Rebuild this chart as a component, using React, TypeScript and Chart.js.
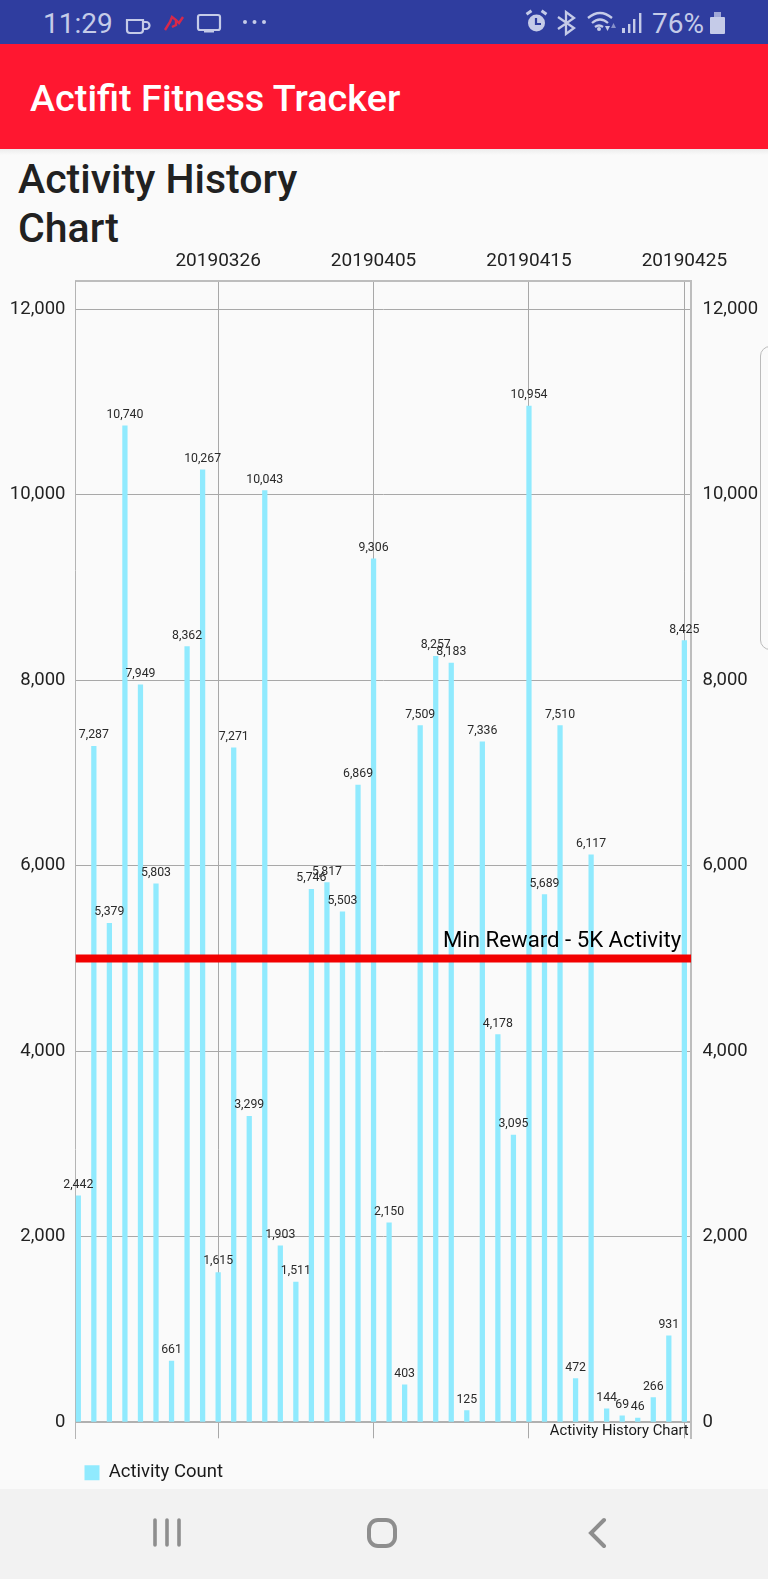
import React, { useEffect, useRef } from "react";
import { Chart, registerables } from "chart.js";

Chart.register(...registerables);

const dates = [
  "20190317","20190318","20190319","20190320","20190321","20190322","20190323","20190324","20190325","20190326",
  "20190327","20190328","20190329","20190330","20190331","20190401","20190402","20190403","20190404","20190405",
  "20190406","20190407","20190408","20190409","20190410","20190411","20190412","20190413","20190414","20190415",
  "20190416","20190417","20190418","20190419","20190420","20190421","20190422","20190423","20190424","20190425",
];
const activity = [
  2442,7287,5379,10740,7949,5803,661,8362,10267,1615,
  7271,3299,10043,1903,1511,5746,5817,5503,6869,9306,
  2150,403,7509,8257,8183,125,7336,4178,3095,10954,
  5689,7510,472,6117,144,69,46,266,931,8425,
];
const xTickIndexes = [9, 19, 29, 39];
const yTicks = [0, 2000, 4000, 6000, 8000, 10000, 12000];
const rewardLimit = 5000;
const rewardLabel = "Min Reward - 5K Activity";
const seriesName = "Activity Count";
const chartDescription = "Activity History Chart";

const X_MIN = -0.18;
const X_MAX = 39.44;
const Y_MIN = -172.5;
const Y_MAX = 12302;
const FONT = "Roboto";
const BAR = "#90EAFE";

const overlay = {
  id: "overlay",
  afterDatasetsDraw(chart: any) {
    const { ctx, chartArea, scales } = chart;
    ctx.save();
    const meta = chart.getDatasetMeta(0);
    ctx.font = `12.3px ${FONT}`;
    ctx.fillStyle = "#2a2a2a";
    ctx.textAlign = "center";
    ctx.textBaseline = "alphabetic";
    meta.data.forEach((el: any, i: number) => {
      ctx.fillText(activity[i].toLocaleString("en-US"), el.x, el.y - 8);
    });
    ctx.font = `22.2px ${FONT}`;
    ctx.fillStyle = "#000";
    ctx.textAlign = "right";
    ctx.fillText(rewardLabel, chartArea.right - 10, scales.y.getPixelForValue(rewardLimit) - 11);
    ctx.font = `14.8px ${FONT}`;
    ctx.fillStyle = "#1a1a1a";
    ctx.fillText(chartDescription, chartArea.right - 2.5, chartArea.bottom - 3.5);
    ctx.restore();
  },
};

function NavAndStatus() {
  const ic = "#C5CBE8";
  const bar = "#2F3D9F";
  return (
    <>
      <div style={{ position: "absolute", left: 0, top: 0, width: 768, height: 44, background: bar }}>
        <span style={{ position: "absolute", left: 43, top: 6, fontFamily: FONT, fontSize: 28, color: ic, lineHeight: "36px" }}>11:29</span>
        <svg width="768" height="44" style={{ position: "absolute", left: 0, top: 0 }}>
          <g fill="none" stroke={ic} strokeWidth="2.2">
            <path d="M127 20 h16 v10 a3 3 0 0 1 -3 3 h-10 a3 3 0 0 1 -3 -3 z" />
            <path d="M143 22 h3 a3 3 0 0 1 0 7 h-3" />
            <rect x="198" y="15" width="22" height="15" rx="2" />
          </g>
          <rect x="204" y="30" width="10" height="2.5" fill={ic} />
          <path d="M165 30 L170 22 L172 17 L176 20 L176 25 L172 27 M176 20 L179 23 L183 17" stroke="#D8284A" strokeWidth="2.4" fill="none" />
          <g fill={ic}>
            <circle cx="245" cy="22" r="2" /><circle cx="254.5" cy="22" r="2" /><circle cx="264" cy="22" r="2" />
            <circle cx="536.5" cy="23" r="8.5" />
            <rect x="526" y="11" width="6" height="3" transform="rotate(-35 529 12.5)" />
            <rect x="541" y="11" width="6" height="3" transform="rotate(35 544 12.5)" />
            <rect x="710" y="17" width="15" height="17" rx="1" />
            <rect x="714" y="12" width="7" height="5" opacity="0.75" />
            <rect x="622" y="28" width="3" height="5" /><rect x="628" y="24" width="2.4" height="9" />
            <rect x="633" y="19" width="2.4" height="14" /><rect x="639" y="13" width="2.4" height="20" />
            <circle cx="599" cy="29" r="2" />
            <path d="M605 26 h5 l-2.5 5 z" /><path d="M611 28 h5 l-2.5 -5 z" opacity="0.6" />
          </g>
          <path d="M536 18 V24 H541" stroke={bar} strokeWidth="2.2" fill="none" />
          <g fill="none" stroke={ic} strokeWidth="2.3">
            <path d="M558 17 L574 28 L566 34 V12 L574 18 L558 29" />
            <path d="M588 18 Q600 8 612 18 M592 23 Q600 16 608 23 M595 27 Q599 24 603 27" />
          </g>
        </svg>
        <span style={{ position: "absolute", left: 652, top: 6, fontFamily: FONT, fontSize: 28, color: ic, lineHeight: "36px" }}>76%</span>
      </div>
      <div style={{ position: "absolute", left: 0, top: 1489, width: 768, height: 90, background: "#F2F2F2" }}>
        <svg width="768" height="90">
          <g fill="none" stroke="#8E8E8E" strokeWidth="3.6" strokeLinecap="round">
            <path d="M155 31 V56 M167 31 V56 M179 31 V56" />
            <rect x="369" y="31" width="26" height="26" rx="9" strokeWidth="4" />
            <path d="M604 31 L591 44 L604 57" strokeWidth="4" />
          </g>
        </svg>
      </div>
    </>
  );
}

export default function App() {
  const ref = useRef<HTMLCanvasElement>(null);
  useEffect(() => {
    const yCommon = {
      min: Y_MIN,
      max: Y_MAX,
      afterBuildTicks: (s: any) => {
        s.ticks = yTicks.map((value) => ({ value }));
      },
    };
    const tickFont = { family: FONT, size: 18.5 };
    const chart = new Chart(ref.current!, {
      type: "bar",
      data: {
        datasets: [
          {
            label: seriesName,
            data: activity.map((y, x) => ({ x, y })),
            backgroundColor: BAR,
            borderWidth: 0,
            barThickness: 4.6,
            order: 2,
          } as any,
          {
            type: "line",
            label: "limit",
            data: [
              { x: X_MIN, y: rewardLimit },
              { x: X_MAX, y: rewardLimit },
            ],
            borderColor: "#F20000",
            borderWidth: 8,
            pointRadius: 0,
            order: 1,
          } as any,
        ],
      },
      plugins: [overlay],
      options: {
        animation: false,
        responsive: false,
        devicePixelRatio: 1,
        layout: { padding: 0 },
        plugins: {
          tooltip: { enabled: false },
          title: { display: false },
          legend: {
            display: true,
            position: "bottom",
            align: "start",
            fullSize: false,
            title: { display: true, text: " ", font: { size: 1 }, padding: { top: 15, bottom: 0 } },
            labels: {
              boxWidth: 15,
              boxHeight: 15,
              padding: 9,
              color: "#1a1a1a",
              font: { family: FONT, size: 18.5 },
              filter: (item: any) => item.text === seriesName,
            },
          },
        },
        scales: {
          x: {
            type: "linear",
            position: "top",
            offset: false,
            min: X_MIN,
            max: X_MAX,
            afterBuildTicks: (s: any) => {
              s.ticks = xTickIndexes.map((value) => ({ value }));
            },
            afterFit: (s: any) => {
              s.height = 41;
            },
            grid: { color: "#A8A8A8", lineWidth: 1, drawTicks: false, offset: false },
            border: { display: true, color: "#BDBDBD", width: 2 },
            ticks: {
              autoSkip: false,
              maxRotation: 0,
              padding: 8,
              color: "#222",
              font: { family: FONT, size: 19 },
              callback: (v: any) => dates[v as number],
            },
          },
          y: {
            ...yCommon,
            position: "left",
            afterFit: (s: any) => {
              s.width = 75.5;
            },
            grid: {
              color: (c: any) => (c.tick && c.tick.value === 0 ? "#B0B0B0" : "#A8A8A8"),
              lineWidth: (c: any) => (c.tick && c.tick.value === 0 ? 2 : 1),
              drawTicks: false,
            },
            border: { display: true, color: "#B4B4B4", width: 1 },
            ticks: {
              padding: 10,
              color: "#222",
              font: tickFont,
              callback: (v: any) => Number(v).toLocaleString("en-US"),
            },
          },
          y2: {
            ...yCommon,
            position: "right",
            afterFit: (s: any) => {
              s.width = 76.8;
            },
            grid: { drawOnChartArea: false, drawTicks: false },
            border: { display: true, color: "#BDBDBD", width: 2 },
            ticks: {
              padding: 11.3,
              color: "#222",
              font: tickFont,
              callback: (v: any) => Number(v).toLocaleString("en-US"),
            },
          },
        },
      } as any,
    });
    return () => chart.destroy();
  }, []);

  return (
    <div style={{ position: "absolute", left: 0, top: 0, width: 768, height: 1579, background: "#FAFAFA", overflow: "hidden", fontFamily: FONT }}>
      <NavAndStatus />
      <div style={{ position: "absolute", left: 0, top: 44, width: 768, height: 105, background: "#FF1730" }}>
        <span style={{ position: "absolute", left: 30, top: 29, fontSize: 37.8, fontWeight: 500, color: "#FFF", lineHeight: "50px" }}>Actifit Fitness Tracker</span>
      </div>
      <div style={{ position: "absolute", left: 0, top: 149, width: 768, height: 6, background: "linear-gradient(#ECECEC,#FAFAFA)" }} />
      <div style={{ position: "absolute", left: 18, top: 155, width: 330, fontSize: 41, fontWeight: 500, lineHeight: "48.5px", color: "#212121" }}>Activity History Chart</div>
      <div style={{ position: "absolute", left: 760, top: 346, width: 20, height: 304, border: "1.5px solid #BBB", borderRadius: 10, boxSizing: "border-box" }} />
      <canvas ref={ref} width={768} height={1252} style={{ position: "absolute", left: 0, top: 240, width: 768, height: 1252 }} />
    </div>
  );
}
